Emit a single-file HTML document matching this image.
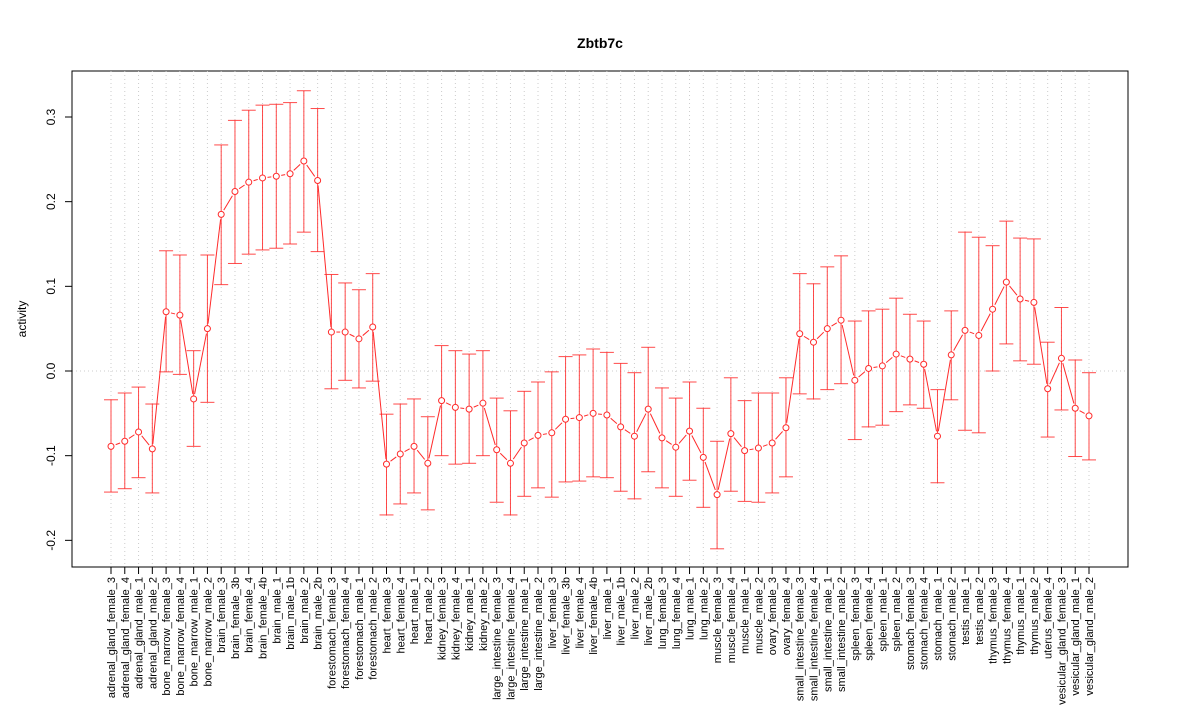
<!DOCTYPE html>
<html><head><meta charset="utf-8"><style>
body{margin:0;background:#fff}
svg text{font-family:"Liberation Sans",sans-serif}
</style></head><body>
<svg id="chart" width="1200" height="720">
<text x="600" y="48" text-anchor="middle" font-size="14" font-weight="bold">Zbtb7c</text>
<text transform="translate(26,319) rotate(-90)" text-anchor="middle" font-size="12">activity</text>
<rect x="72" y="71" width="1056" height="496" fill="none" stroke="#000"/>
<g id="grid"></g><g id="yaxis"></g><g id="xaxis"></g><g id="series"></g>
</svg>
<script>
const categories=["adrenal_gland_female_3","adrenal_gland_female_4","adrenal_gland_male_1","adrenal_gland_male_2","bone_marrow_female_3","bone_marrow_female_4","bone_marrow_male_1","bone_marrow_male_2","brain_female_3","brain_female_3b","brain_female_4","brain_female_4b","brain_male_1","brain_male_1b","brain_male_2","brain_male_2b","forestomach_female_3","forestomach_female_4","forestomach_male_1","forestomach_male_2","heart_female_3","heart_female_4","heart_male_1","heart_male_2","kidney_female_3","kidney_female_4","kidney_male_1","kidney_male_2","large_intestine_female_3","large_intestine_female_4","large_intestine_male_1","large_intestine_male_2","liver_female_3","liver_female_3b","liver_female_4","liver_female_4b","liver_male_1","liver_male_1b","liver_male_2","liver_male_2b","lung_female_3","lung_female_4","lung_male_1","lung_male_2","muscle_female_3","muscle_female_4","muscle_male_1","muscle_male_2","ovary_female_3","ovary_female_4","small_intestine_female_3","small_intestine_female_4","small_intestine_male_1","small_intestine_male_2","spleen_female_3","spleen_female_4","spleen_male_1","spleen_male_2","stomach_female_3","stomach_female_4","stomach_male_1","stomach_male_2","testis_male_1","testis_male_2","thymus_female_3","thymus_female_4","thymus_male_1","thymus_male_2","uterus_female_4","vesicular_gland_female_3","vesicular_gland_male_1","vesicular_gland_male_2"];
const values=[-0.089,-0.083,-0.072,-0.092,0.070,0.066,-0.033,0.050,0.185,0.212,0.223,0.228,0.230,0.233,0.248,0.225,0.046,0.046,0.038,0.052,-0.110,-0.098,-0.089,-0.109,-0.035,-0.043,-0.045,-0.038,-0.093,-0.109,-0.085,-0.076,-0.073,-0.057,-0.055,-0.050,-0.052,-0.066,-0.077,-0.045,-0.079,-0.090,-0.071,-0.102,-0.146,-0.074,-0.094,-0.091,-0.085,-0.067,0.044,0.034,0.050,0.060,-0.011,0.003,0.006,0.020,0.014,0.008,-0.077,0.019,0.048,0.042,0.073,0.105,0.085,0.081,-0.021,0.015,-0.044,-0.053];
const upper=[-0.034,-0.026,-0.019,-0.039,0.142,0.137,0.024,0.137,0.267,0.296,0.308,0.314,0.315,0.317,0.331,0.310,0.114,0.104,0.096,0.115,-0.051,-0.039,-0.033,-0.054,0.030,0.024,0.020,0.024,-0.032,-0.047,-0.024,-0.013,-0.001,0.017,0.019,0.026,0.022,0.009,-0.002,0.028,-0.020,-0.032,-0.013,-0.044,-0.083,-0.008,-0.035,-0.026,-0.026,-0.008,0.115,0.103,0.123,0.136,0.059,0.071,0.073,0.086,0.067,0.059,-0.022,0.071,0.164,0.158,0.148,0.177,0.157,0.156,0.034,0.075,0.013,-0.002];
const lower=[-0.143,-0.139,-0.126,-0.144,-0.001,-0.004,-0.089,-0.037,0.102,0.127,0.138,0.143,0.145,0.150,0.164,0.141,-0.021,-0.011,-0.020,-0.012,-0.170,-0.157,-0.144,-0.164,-0.100,-0.110,-0.109,-0.100,-0.155,-0.170,-0.148,-0.138,-0.149,-0.131,-0.130,-0.125,-0.126,-0.142,-0.151,-0.119,-0.138,-0.148,-0.129,-0.161,-0.210,-0.142,-0.154,-0.155,-0.144,-0.125,-0.027,-0.033,-0.022,-0.015,-0.081,-0.066,-0.064,-0.048,-0.040,-0.044,-0.132,-0.034,-0.070,-0.073,0.000,0.032,0.012,0.008,-0.078,-0.046,-0.101,-0.105];
const yTicks=[-0.2,-0.1,0.0,0.1,0.2,0.3];
const yTickLabels=["-0.2","-0.1","0.0","0.1","0.2","0.3"];
const NS="http://www.w3.org/2000/svg";
function X(i){return 111+i*(1089-111)/(categories.length-1);}
function Y(v){return 371-v*846.7;}
function mk(tag,attrs,parent){const e=document.createElementNS(NS,tag);for(const k in attrs)e.setAttribute(k,attrs[k]);parent.appendChild(e);return e;}
const grid=document.getElementById('grid'),ya=document.getElementById('yaxis'),xa=document.getElementById('xaxis'),se=document.getElementById('series');
categories.forEach((c,i)=>{
 const g=mk('line',{x1:X(i),x2:X(i),y1:71,y2:567,stroke:'#ccc','stroke-dasharray':'1,3'},grid);
 
 
 const t=mk('line',{x1:X(i),x2:X(i),y1:567,y2:574,stroke:'#000'},xa);
 
 
 const l=mk('text',{transform:`translate(${X(i)+4},577) rotate(-90)`,'text-anchor':'end','font-size':'11'},xa);
 l.textContent=c;
 
 
});
const z=mk('line',{x1:72,x2:1128,y1:Y(0),y2:Y(0),stroke:'#ccc','stroke-dasharray':'1,3'},grid);


mk('line',{x1:72,x2:72,y1:Y(-0.2),y2:Y(0.3),stroke:'#000'},ya);
yTicks.forEach((v,i)=>{
 const t=mk('line',{x1:65,x2:72,y1:Y(v),y2:Y(v),stroke:'#000'},ya);
 
 
 const l=mk('text',{transform:`translate(55,${Y(v)}) rotate(-90)`,'text-anchor':'middle','font-size':'12'},ya);
 l.textContent=yTickLabels[i];
 
 
});
const col='#ff2a2a';
values.forEach((v,i)=>{
 const x=X(i);
 const eb=mk('g',{stroke:col,'stroke-opacity':'0.85'},se);
 
 
 mk('line',{x1:x,x2:x,y1:Y(upper[i]),y2:Y(lower[i])},eb);
 mk('line',{x1:x-7,x2:x+7,y1:Y(upper[i]),y2:Y(upper[i])},eb);
 mk('line',{x1:x-7,x2:x+7,y1:Y(lower[i]),y2:Y(lower[i])},eb);
 if(i<values.length-1){
  const x2=X(i+1),y1=Y(v),y2=Y(values[i+1]);
  const dx=x2-x,dy=y2-y1,d=Math.hypot(dx,dy);
  if(d>10){const ux=dx/d,uy=dy/d;
   const s=mk('line',{x1:x+ux*5,y1:y1+uy*5,x2:x2-ux*5,y2:y2-uy*5,stroke:col},se);
   
   }
 }
});
values.forEach((v,i)=>{
 const p=mk('circle',{cx:X(i),cy:Y(v),r:3,fill:'#fff',stroke:col},se);
 
 
});
</script>
</body></html>
